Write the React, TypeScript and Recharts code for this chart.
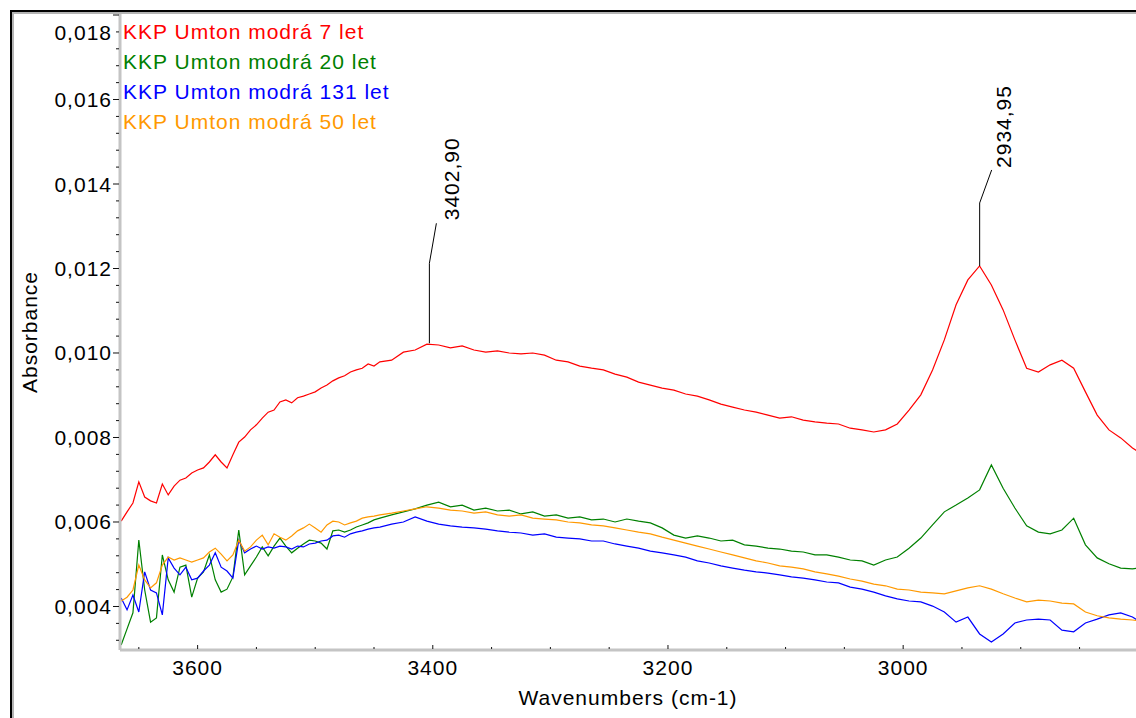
import React from 'react'
import { LineChart, Line, XAxis, YAxis, ReferenceDot } from 'recharts'

// wavenumbers (cm-1), 5 steps in the noisy region, then 10
const wavenumbers = [
  3665, 3660, 3655, 3650, 3645, 3640, 3635, 3630, 3625, 3620,
  3615, 3610, 3605, 3600, 3595, 3590, 3585, 3580, 3575, 3570,
  3565, 3560, 3555, 3550, 3545, 3540, 3535, 3530, 3525, 3520,
  3515, 3510, 3505, 3500, 3495, 3490, 3485, 3480, 3475, 3470,
  3465, 3460, 3455, 3450,
  3445, 3435, 3425, 3415, 3405, 3395, 3385, 3375, 3365, 3355,
  3345, 3335, 3325, 3315, 3305, 3295, 3285, 3275, 3265, 3255,
  3245, 3235, 3225, 3215, 3205, 3195, 3185, 3175, 3165, 3155,
  3145, 3135, 3125, 3115, 3105, 3095, 3085, 3075, 3065, 3055,
  3045, 3035, 3025, 3015, 3005, 2995, 2985, 2975, 2965, 2955,
  2945, 2935, 2925, 2915, 2905, 2895, 2885, 2875, 2865, 2855,
  2845, 2835, 2825, 2815, 2805, 2800,
]

const red7 = [
  0.00602, 0.00624, 0.00645, 0.00695, 0.00659, 0.0065, 0.00645, 0.0069, 0.00664, 0.00685,
  0.00699, 0.00704, 0.00716, 0.00723, 0.00728, 0.00742, 0.00759, 0.00742, 0.00728, 0.00759,
  0.00789, 0.00801, 0.00818, 0.0083, 0.00846, 0.0086, 0.00865, 0.00884, 0.00889, 0.00882,
  0.00894, 0.00898, 0.00903, 0.00908, 0.00917, 0.00924, 0.00934, 0.00941, 0.00946, 0.00955,
  0.0096, 0.00964, 0.00974, 0.00969,
  0.00979, 0.00983, 0.01002, 0.01007, 0.01021, 0.01019, 0.01012, 0.01017, 0.01007, 0.01002,
  0.01005, 0.01, 0.00998, 0.01, 0.00995, 0.00983, 0.00979, 0.00969, 0.00964, 0.0096,
  0.0095, 0.00943, 0.00931, 0.00924, 0.00917, 0.00912, 0.00903, 0.00898, 0.00889, 0.00879,
  0.00872, 0.00865, 0.0086, 0.00853, 0.00846, 0.00849, 0.00841, 0.00837, 0.00834, 0.00832,
  0.00822, 0.00818, 0.00813, 0.00818, 0.00832, 0.00865, 0.00901, 0.0096, 0.01031, 0.01114,
  0.01173, 0.01206, 0.01161, 0.01102, 0.01031, 0.00964, 0.00955, 0.00972, 0.00983, 0.00964,
  0.00908, 0.00853, 0.00818, 0.00799, 0.00775, 0.00766,
]

const green20 = [
  0.00309, 0.00347, 0.00385, 0.00557, 0.00439, 0.00363, 0.00373, 0.00522, 0.00463, 0.00434,
  0.00493, 0.00498, 0.00422, 0.00467, 0.00482, 0.00522, 0.00463, 0.00434, 0.00441, 0.0047,
  0.00581, 0.00475, 0.00496, 0.00517, 0.00541, 0.0052, 0.00543, 0.00562, 0.00543, 0.00527,
  0.00538, 0.00548, 0.00557, 0.00555, 0.0055, 0.00536, 0.00579, 0.00581, 0.00576, 0.00581,
  0.00588, 0.00593, 0.00598, 0.00605,
  0.00609, 0.00617, 0.00624, 0.00631, 0.0064, 0.00647, 0.00636, 0.0064, 0.00628, 0.00633,
  0.00626, 0.00628, 0.00619, 0.00624, 0.00614, 0.00617, 0.00609, 0.00612, 0.00605, 0.00607,
  0.006, 0.00607, 0.00602, 0.00598, 0.00586, 0.00569, 0.00562, 0.00567, 0.00562, 0.00555,
  0.00557, 0.00546, 0.00543, 0.00538, 0.00536, 0.00531, 0.00529, 0.00522, 0.00522, 0.00517,
  0.0051, 0.00508, 0.00498, 0.0051, 0.00517, 0.00538, 0.00562, 0.00593, 0.00624, 0.0064,
  0.00657, 0.00676, 0.00735, 0.0068, 0.00633, 0.00591, 0.00576, 0.00572, 0.00581, 0.00609,
  0.00546, 0.00515, 0.00501, 0.00491, 0.00489, 0.00491,
]

const blue131 = [
  0.0042, 0.00392, 0.00427, 0.00387, 0.00482, 0.00439, 0.00432, 0.0038, 0.00515, 0.00491,
  0.00475, 0.00493, 0.00463, 0.00467, 0.00484, 0.00498, 0.00527, 0.00493, 0.00484, 0.00467,
  0.00557, 0.00527, 0.00536, 0.00543, 0.00536, 0.00541, 0.00538, 0.00543, 0.00541, 0.00536,
  0.00543, 0.00541, 0.00548, 0.0055, 0.00555, 0.00557, 0.00567, 0.00569, 0.00564, 0.00572,
  0.00576, 0.00579, 0.00583, 0.00586,
  0.00588, 0.00595, 0.006, 0.00612, 0.00602, 0.00595, 0.00591, 0.00588, 0.00586, 0.00583,
  0.00579, 0.00576, 0.00574, 0.00569, 0.00572, 0.00564, 0.00562, 0.0056, 0.00555, 0.00555,
  0.00548, 0.00543, 0.00538, 0.00531, 0.00527, 0.00522, 0.00517, 0.00508, 0.00503, 0.00496,
  0.00491, 0.00486, 0.00482, 0.00479, 0.00475, 0.0047, 0.00467, 0.00463, 0.00458, 0.00456,
  0.00446, 0.00441, 0.00434, 0.00425, 0.00418, 0.00413, 0.00411, 0.00401, 0.00387, 0.00363,
  0.00375, 0.00335, 0.00316, 0.00335, 0.00361, 0.00368, 0.0037, 0.00368, 0.00344, 0.0034,
  0.00361, 0.0037, 0.0038, 0.00385, 0.00375, 0.00366,
]

const orange50 = [
  0.00413, 0.00422, 0.00439, 0.00498, 0.00463, 0.00444, 0.00456, 0.00498, 0.00517, 0.0051,
  0.00515, 0.0051, 0.00505, 0.0051, 0.00515, 0.00529, 0.00538, 0.00524, 0.00508, 0.00522,
  0.00557, 0.00531, 0.00541, 0.00557, 0.00569, 0.00546, 0.00572, 0.00564, 0.00557, 0.00567,
  0.00579, 0.00586, 0.00595, 0.00586, 0.00576, 0.00593, 0.00602, 0.006, 0.00593, 0.00598,
  0.00602, 0.00609, 0.00612, 0.00614,
  0.00617, 0.00621, 0.00626, 0.00631, 0.00636, 0.00633, 0.00628, 0.00626, 0.00621, 0.00624,
  0.00617, 0.00614, 0.00617, 0.00609, 0.00607, 0.00605, 0.006, 0.00598, 0.00593, 0.00591,
  0.00586, 0.00581, 0.00576, 0.00572, 0.00564, 0.00557, 0.0055, 0.00543, 0.00536, 0.00529,
  0.00522, 0.00515, 0.00508, 0.00503, 0.00496, 0.00493, 0.00489, 0.00482, 0.00477, 0.00472,
  0.00465, 0.0046, 0.00453, 0.00449, 0.00441, 0.00439, 0.00434, 0.00432, 0.0043, 0.00437,
  0.00444, 0.00449, 0.00441, 0.0043, 0.0042, 0.00411, 0.00415, 0.00413, 0.00408, 0.00406,
  0.00387, 0.00378, 0.00373, 0.0037, 0.00368, 0.00366,
]

const seriesNames = [
  'KKP Umton modrá 7 let',
  'KKP Umton modrá 20 let',
  'KKP Umton modrá 131 let',
  'KKP Umton modrá 50 let',
]
const seriesKeys = ['red7', 'green20', 'blue131', 'orange50']
const seriesColors = ['#ff0000', '#008000', '#0000ff', '#ff9900']

const xTicks = [
  3650, 3600, 3550, 3500, 3450, 3400, 3350, 3300, 3250, 3200,
  3150, 3100, 3050, 3000, 2950, 2900, 2850,
]
const xMajor = [3600, 3400, 3200, 3000]
const yTicks = [
  0.0032, 0.0036, 0.004, 0.0044, 0.0048, 0.0052, 0.0056, 0.006, 0.0064, 0.0068,
  0.0072, 0.0076, 0.008, 0.0084, 0.0088, 0.0092, 0.0096, 0.01, 0.0104, 0.0108,
  0.0112, 0.0116, 0.012, 0.0124, 0.0128, 0.0132, 0.0136, 0.014, 0.0144, 0.0148,
  0.0152, 0.0156, 0.016, 0.0164, 0.0168, 0.0172, 0.0176, 0.018,
]

const peakWn = [3402.9, 2934.95]
const peakAbs = [0.01023, 0.01206]
const peakLabels = ['3402,90', '2934,95']

const rows = wavenumbers.map((wn, i) => ({
  wn,
  red7: red7[i],
  green20: green20[i],
  blue131: blue131[i],
  orange50: orange50[i],
}))

const FONT = '"Liberation Sans", Arial, sans-serif'
const FS = 21
const LS = 1

const XTick = (p: any) => {
  const v = p.payload.value
  const major = xMajor.includes(v)
  return (
    <g>
      <line x1={p.x} x2={p.x} y1={p.y - (major ? 5 : 3)} y2={p.y - 1} stroke="#111" />
      {major && (
        <text x={p.x} y={p.y + 25} textAnchor="middle" fontFamily={FONT} fontSize={FS}
          letterSpacing={LS} fill="#000">{v}</text>
      )}
    </g>
  )
}

const YTick = (p: any) => {
  const v = p.payload.value
  const major = Math.round(v * 10000) % 20 === 0
  const top = Math.round(v * 10000) === 180
  return (
    <g>
      <line x1={p.x - (major ? 7 : 4)} x2={p.x - 1} y1={p.y} y2={p.y} stroke="#111" />
      {major && (
        <text x={p.x - 8} y={p.y + (top ? 17 : 0)} textAnchor="end" dominantBaseline="central"
          fontFamily={FONT} fontSize={FS} letterSpacing={LS} fill="#000">
          {v.toFixed(3).replace('.', ',')}
        </text>
      )}
    </g>
  )
}

const leader = [
  { rise: 80, dx: 7, slant: 40, tx: 22, gap: 3 },
  { rise: 63, dx: 12, slant: 33, tx: 24, gap: 2 },
]

const PeakMark = (p: any) => {
  const { cx, cy, idx } = p
  const l = leader[idx]
  const ex = cx + l.dx
  const ey = cy - l.rise - l.slant
  const ty = ey - l.gap
  return (
    <g>
      <polyline points={`${cx},${cy} ${cx},${cy - l.rise} ${ex},${ey}`} fill="none" stroke="#000" strokeWidth={1} />
      <text transform={`translate(${cx + l.tx},${ty}) rotate(-90)`} dominantBaseline="central"
        fontFamily={FONT} fontSize={FS} letterSpacing={LS} fill="#000">{peakLabels[idx]}</text>
    </g>
  )
}

export default function App() {
  return (
    <div style={{ position: 'fixed', left: 0, top: 0, width: 1136, height: 718, overflow: 'hidden', background: '#fff' }}>
      <div style={{ position: 'absolute', left: 10, top: 10, width: 1200, height: 800, borderLeft: '2px solid #000', borderTop: '2px solid #000' }} />
      <div style={{ position: 'absolute', left: 12, top: 12, width: 1200, height: 800, borderLeft: '2px solid #b4b4b4', borderTop: '2px solid #b4b4b4' }} />
      <div style={{ position: 'absolute', left: 0, top: 0 }}>
        <LineChart width={1136} height={718} data={rows} margin={{ top: 14, right: 0, bottom: 0, left: 0 }}>
          <XAxis
            dataKey="wn"
            type="number"
            domain={[2802, 3666]}
            reversed
            allowDataOverflow
            ticks={xTicks}
            interval={0}
            height={68}
            tickSize={0}
            tickMargin={0}
            tickLine={false}
            tick={XTick}
            axisLine={{ stroke: '#c4c4c4', strokeWidth: 3 }}
            label={{
              content: (lp: any) => (
                <text x={lp.viewBox.x + lp.viewBox.width / 2} y={lp.viewBox.y + 55} textAnchor="middle"
                  fontFamily={FONT} fontSize={FS} letterSpacing={LS} fill="#000">Wavenumbers (cm-1)</text>
              ),
            }}
          />
          <YAxis
            type="number"
            domain={[0.00297, 0.018024]}
            allowDataOverflow
            ticks={yTicks}
            interval={0}
            width={120}
            tickSize={0}
            tickMargin={0}
            tickLine={false}
            tick={YTick}
            axisLine={{ stroke: '#c4c4c4', strokeWidth: 3 }}
            label={{
              content: (lp: any) => {
                const x = lp.viewBox.x + 29
                const y = lp.viewBox.y + lp.viewBox.height / 2
                return (
                  <text transform={`translate(${x},${y}) rotate(-90)`} textAnchor="middle" dominantBaseline="central"
                    fontFamily={FONT} fontSize={FS} letterSpacing={LS} fill="#000">Absorbance</text>
                )
              },
            }}
          />
          {seriesKeys.map((k, i) => (
            <Line key={k} type="linear" dataKey={k} name={seriesNames[i]} stroke={seriesColors[i]}
              strokeWidth={1.2} dot={false} isAnimationActive={false} />
          ))}
          {peakWn.map((wn, i) => (
            <ReferenceDot key={wn} x={wn} y={peakAbs[i]} r={0} ifOverflow="visible"
              shape={(sp: any) => <PeakMark {...sp} idx={i} />} />
          ))}
        </LineChart>
      </div>
      <div style={{ position: 'absolute', left: 123, top: 17, fontFamily: FONT, fontSize: FS, letterSpacing: LS, lineHeight: '30px' }}>
        {seriesNames.map((n, i) => (
          <div key={n} style={{ color: seriesColors[i], whiteSpace: 'nowrap' }}>{n}</div>
        ))}
      </div>
    </div>
  )
}
